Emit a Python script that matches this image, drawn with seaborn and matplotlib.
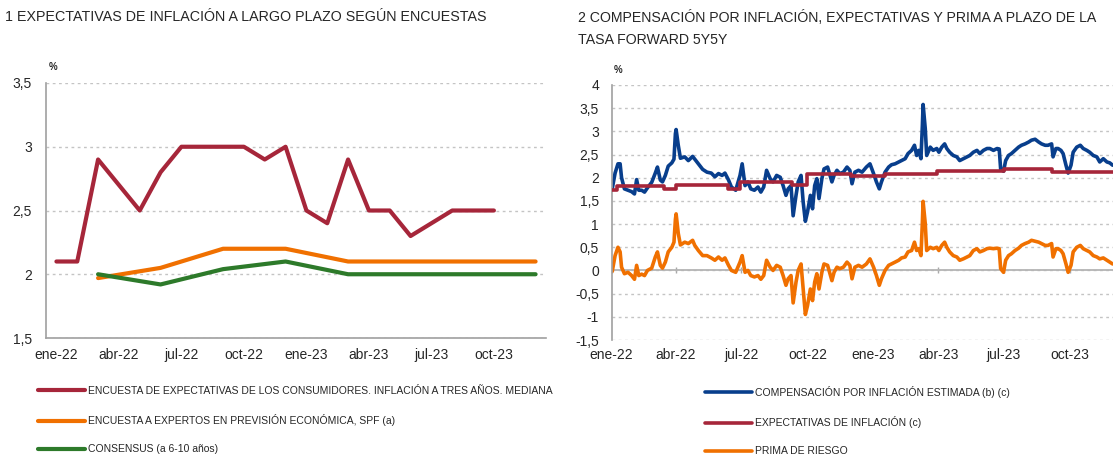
import matplotlib
matplotlib.use("Agg")
import matplotlib.pyplot as plt
from matplotlib import font_manager
import numpy as np
import pandas as pd
import seaborn as sns

nan = np.nan

# ── Panel 1: encuestas (eje de categorías mensual) ─────────────────────────
meses = ["ene-22", "feb-22", "mar-22", "abr-22", "may-22", "jun-22",
         "jul-22", "ago-22", "sep-22", "oct-22", "nov-22", "dic-22",
         "ene-23", "feb-23", "mar-23", "abr-23", "may-23", "jun-23",
         "jul-23", "ago-23", "sep-23", "oct-23", "nov-23", "dic-23"]
consumidores = [2.1, 2.1, 2.9, 2.7, 2.5, 2.8, 3.0, 3.0, 3.0, 3.0, 2.9, 3.0,
                2.5, 2.4, 2.9, 2.5, 2.5, 2.3, 2.4, 2.5, 2.5, 2.5, nan, nan]
spf = [nan, nan, 1.97, nan, nan, 2.05, nan, nan, 2.2, nan, nan, 2.2,
       nan, nan, 2.1, nan, nan, 2.1, nan, nan, 2.1, nan, nan, 2.1]
consensus = [nan, nan, 2.0, nan, nan, 1.92, nan, nan, 2.04, nan, nan, 2.1,
             nan, nan, 2.0, nan, nan, 2.0, nan, nan, 2.0, nan, nan, 2.0]

# ── Panel 2: forward 5y5y (diario) ─────────────────────────────────────────
fechas = [
    "2022-01-02", "2022-01-06", "2022-01-10", "2022-01-13", "2022-01-15", "2022-01-19",
    "2022-01-24", "2022-01-29", "2022-02-02", "2022-02-05", "2022-02-08", "2022-02-12",
    "2022-02-16", "2022-02-20", "2022-02-26", "2022-03-03", "2022-03-06", "2022-03-10",
    "2022-03-13", "2022-03-17", "2022-03-21", "2022-03-26", "2022-03-29", "2022-03-31",
    "2022-04-01", "2022-04-04", "2022-04-07", "2022-04-13", "2022-04-18", "2022-04-24",
    "2022-04-27", "2022-05-02", "2022-05-08", "2022-05-14", "2022-05-20", "2022-05-25",
    "2022-05-30", "2022-06-04", "2022-06-08", "2022-06-13", "2022-06-17", "2022-06-23",
    "2022-06-29", "2022-07-02", "2022-07-06", "2022-07-10", "2022-07-14", "2022-07-19",
    "2022-07-24", "2022-07-28", "2022-08-01", "2022-08-05", "2022-08-10", "2022-08-14",
    "2022-08-19", "2022-08-24", "2022-08-28", "2022-09-01", "2022-09-04", "2022-09-08",
    "2022-09-11", "2022-09-15", "2022-09-18", "2022-09-22", "2022-09-25", "2022-09-28",
    "2022-10-01", "2022-10-05", "2022-10-08", "2022-10-11", "2022-10-14", "2022-10-17",
    "2022-10-21", "2022-10-24", "2022-10-29", "2022-11-04", "2022-11-07", "2022-11-11",
    "2022-11-15", "2022-11-20", "2022-11-25", "2022-11-29", "2022-12-02", "2022-12-06",
    "2022-12-11", "2022-12-16", "2022-12-22", "2022-12-27", "2023-01-01", "2023-01-05",
    "2023-01-09", "2023-01-12", "2023-01-17", "2023-01-22", "2023-01-26", "2023-01-31",
    "2023-02-05", "2023-02-09", "2023-02-14", "2023-02-18", "2023-02-23", "2023-02-27",
    "2023-03-02", "2023-03-05", "2023-03-08", "2023-03-10", "2023-03-11", "2023-03-14",
    "2023-03-16", "2023-03-21", "2023-03-25", "2023-03-30", "2023-04-02", "2023-04-06",
    "2023-04-10", "2023-04-13", "2023-04-17", "2023-04-22", "2023-04-27", "2023-05-01",
    "2023-05-06", "2023-05-11", "2023-05-15", "2023-05-20", "2023-05-25", "2023-05-29",
    "2023-06-03", "2023-06-08", "2023-06-12", "2023-06-17", "2023-06-22", "2023-06-25",
    "2023-06-27", "2023-07-01", "2023-07-04", "2023-07-08", "2023-07-12", "2023-07-17",
    "2023-07-22", "2023-07-26", "2023-07-31", "2023-08-05", "2023-08-09", "2023-08-14",
    "2023-08-19", "2023-08-23", "2023-08-28", "2023-09-01", "2023-09-06", "2023-09-08",
    "2023-09-12", "2023-09-15", "2023-09-19", "2023-09-22", "2023-09-26", "2023-09-29",
    "2023-10-03", "2023-10-06", "2023-10-11", "2023-10-16", "2023-10-20", "2023-10-25",
    "2023-10-29", "2023-11-03", "2023-11-08", "2023-11-12", "2023-11-17", "2023-11-22",
    "2023-11-26", "2023-11-30"]
compensacion = [
    1.76, 2.10, 2.30, 2.30, 2.00, 1.76, 1.73, 1.70, 1.65, 1.96, 1.73, 1.73,
    1.69, 1.78, 1.90, 2.10, 2.23, 1.95, 1.91, 2.05, 2.25, 2.32, 2.40, 2.95,
    3.04, 2.70, 2.42, 2.45, 2.37, 2.46, 2.40, 2.30, 2.18, 2.12, 2.10, 2.02,
    2.09, 2.05, 2.10, 1.95, 1.80, 1.73, 2.05, 2.30, 1.83, 1.91, 1.76, 1.73,
    1.80, 1.69, 1.80, 2.16, 1.98, 1.91, 2.05, 2.01, 1.83, 1.62, 1.76, 1.83,
    1.18, 1.62, 1.91, 2.05, 1.47, 1.06, 1.26, 1.62, 1.33, 1.83, 1.98, 1.55,
    1.98, 2.19, 2.23, 1.91, 2.05, 2.16, 2.09, 2.12, 2.23, 2.16, 1.87, 2.12,
    2.16, 2.12, 2.23, 2.30, 2.09, 1.91, 1.76, 1.91, 2.12, 2.23, 2.28, 2.30,
    2.34, 2.37, 2.41, 2.52, 2.59, 2.70, 2.48, 2.59, 2.41, 3.13, 3.58, 3.06,
    2.48, 2.66, 2.59, 2.63, 2.55, 2.66, 2.73, 2.63, 2.55, 2.48, 2.45, 2.37,
    2.41, 2.45, 2.48, 2.55, 2.59, 2.52, 2.59, 2.63, 2.63, 2.59, 2.63, 2.62,
    2.19, 2.14, 2.37, 2.48, 2.52, 2.59, 2.66, 2.70, 2.73, 2.77, 2.81, 2.83,
    2.77, 2.73, 2.70, 2.70, 2.73, 2.45, 2.63, 2.63, 2.59, 2.52, 2.27, 2.10,
    2.27, 2.55, 2.66, 2.70, 2.63, 2.59, 2.55, 2.48, 2.45, 2.34, 2.41, 2.34,
    2.32, 2.27]
prima = [
    -0.02, 0.32, 0.50, 0.40, 0.07, -0.07, -0.04, -0.11, -0.19, 0.11, -0.11, -0.08,
    -0.11, 0.00, 0.05, 0.29, 0.40, 0.11, 0.05, 0.18, 0.40, 0.50, 0.61, 1.10,
    1.22, 0.80, 0.55, 0.61, 0.58, 0.65, 0.54, 0.43, 0.32, 0.32, 0.27, 0.22,
    0.29, 0.22, 0.27, 0.11, 0.00, -0.04, 0.18, 0.32, -0.04, 0.00, -0.11, -0.14,
    -0.11, -0.19, -0.11, 0.22, 0.07, 0.00, 0.11, 0.07, -0.11, -0.32, -0.18, -0.11,
    -0.70, -0.25, 0.00, 0.14, -0.40, -0.95, -0.76, -0.40, -0.65, -0.25, -0.07, -0.40,
    -0.04, 0.14, 0.11, -0.22, -0.04, 0.07, 0.04, 0.07, 0.18, 0.11, -0.18, 0.07,
    0.11, 0.07, 0.14, 0.25, 0.07, -0.11, -0.32, -0.18, 0.00, 0.11, 0.14, 0.18,
    0.22, 0.27, 0.29, 0.40, 0.43, 0.61, 0.43, 0.47, 0.32, 1.04, 1.49, 1.01,
    0.43, 0.50, 0.47, 0.50, 0.43, 0.54, 0.61, 0.50, 0.40, 0.32, 0.29, 0.22,
    0.25, 0.29, 0.32, 0.43, 0.47, 0.40, 0.43, 0.47, 0.48, 0.47, 0.48, 0.47,
    0.04, -0.04, 0.22, 0.32, 0.36, 0.43, 0.48, 0.54, 0.58, 0.61, 0.65, 0.63,
    0.61, 0.58, 0.54, 0.54, 0.58, 0.29, 0.47, 0.47, 0.43, 0.36, 0.14, -0.04,
    0.11, 0.40, 0.50, 0.54, 0.47, 0.43, 0.40, 0.32, 0.29, 0.25, 0.27, 0.22,
    0.18, 0.14]
fechas_exp = ["2022-01-01", "2022-01-08", "2022-03-15", "2022-04-01", "2022-06-12",
              "2022-06-29", "2022-09-10", "2022-09-30", "2022-12-01", "2023-01-17",
              "2023-03-30", "2023-07-01", "2023-09-07", "2023-11-30"]
expectativas = [1.73, 1.83, 1.76, 1.84, 1.75, 1.91, 1.85, 2.07, 2.03, 2.07,
                2.15, 2.19, 2.13, 2.13]

trimestres = ["2022-01-01", "2022-04-01", "2022-07-01", "2022-10-01",
              "2023-01-01", "2023-04-01", "2023-07-01", "2023-10-01"]
etiquetas = ["ene-22", "abr-22", "jul-22", "oct-22", "ene-23", "abr-23", "jul-23", "oct-23"]

ROJO, NARANJA, VERDE, AZUL = "#A6263A", "#F07000", "#2D7A2A", "#083E8C"
GRIS, REJILLA = "#A0A0A0", "#C4C4C4"

sns.set_style("white")
disponibles = set(font_manager.get_font_names())
if "Liberation Sans Narrow" in disponibles:
    ESTRECHA, TAM_LEY = "Liberation Sans Narrow", 9.0
else:
    ESTRECHA, TAM_LEY = "Liberation Sans", 7.5
plt.rcParams["font.family"] = ["Liberation Sans", "DejaVu Sans"]

W, H = 1113, 457
fig = plt.figure(figsize=(W / 100, H / 100), dpi=100)
ax1 = fig.add_axes([46 / W, 1 - 338 / H, 500 / W, 255 / H])
ax2 = fig.add_axes([611.5 / W, 1 - 340 / H, 523.4 / W, 255 / H])

leyenda = dict(loc="upper left", bbox_transform=fig.transFigure, frameon=False,
               prop={"family": ESTRECHA, "size": TAM_LEY},
               handlelength=4.5, handletextpad=0.3, labelspacing=1.75,
               borderpad=0, borderaxespad=0)


# ── 1. Expectativas según encuestas ────────────────────────────────────────
izq = pd.DataFrame({"mes": meses, "consumidores": consumidores,
                    "spf": spf, "consensus": consensus})
izq["pos"] = np.arange(len(meses))

series_izq = [
    ("consumidores", ROJO, "ENCUESTA DE EXPECTATIVAS DE LOS CONSUMIDORES. INFLACIÓN A TRES AÑOS. MEDIANA"),
    ("spf", NARANJA, "ENCUESTA A EXPERTOS EN PREVISIÓN ECONÓMICA, SPF (a)"),
    ("consensus", VERDE, "CONSENSUS (a 6-10 años)"),
]
for col, color, etiqueta in series_izq:
    d = izq.dropna(subset=[col])
    sns.lineplot(data=d, x="pos", y=col, ax=ax1, color=color, lw=3.0,
                 label=etiqueta, solid_capstyle="round", solid_joinstyle="round")

ax1.set_xlim(-0.5, len(meses) - 0.5)
ax1.set_ylim(1.5, 3.5)
ax1.set_yticks([1.5, 2, 2.5, 3, 3.5])
ax1.set_yticklabels(["1,5", "2", "2,5", "3", "3,5"])
ax1.set_xticks(izq["pos"][::3])
ax1.set_xticklabels(meses[::3])
ax1.set_xticks(izq["pos"][2::3] + 0.5, minor=True)
ax1.tick_params(axis="x", which="major", length=0, pad=7, labelsize=10)
ax1.tick_params(axis="x", which="minor", length=4, width=1, direction="in", color=GRIS)
ax1.tick_params(axis="y", length=0, pad=10, labelsize=10)
ax1.set_xlabel("")
ax1.set_ylabel("")
ax1.yaxis.grid(True, ls=(0, (2, 2.5)), color=REJILLA, lw=1)
ax1.set_axisbelow(True)
for lado in ["top", "right"]:
    ax1.spines[lado].set_visible(False)
for lado in ["left", "bottom"]:
    ax1.spines[lado].set_color(GRIS)
    ax1.spines[lado].set_linewidth(1.2)

ax1.legend(bbox_to_anchor=(38 / W, 1 - 386 / H), **leyenda)


# ── 2. Compensación por inflación, expectativas y prima ────────────────────
der = pd.DataFrame({"fecha": pd.to_datetime(fechas),
                    "compensacion": compensacion, "prima": prima})
exp = pd.DataFrame({"fecha": pd.to_datetime(fechas_exp), "expectativas": expectativas})

ax2.axhline(0, color="#B4B4B4", lw=1.3, zorder=1)
sns.lineplot(data=der, x="fecha", y="compensacion", ax=ax2, color=AZUL, lw=2.6,
             label="COMPENSACIÓN POR INFLACIÓN ESTIMADA (b) (c)", zorder=2)
sns.lineplot(data=exp, x="fecha", y="expectativas", ax=ax2, color=ROJO, lw=2.6,
             drawstyle="steps-post", label="EXPECTATIVAS DE INFLACIÓN (c)", zorder=3)
sns.lineplot(data=der, x="fecha", y="prima", ax=ax2, color=NARANJA, lw=2.6,
             label="PRIMA DE RIESGO", zorder=2)

ax2.set_xlim(pd.Timestamp("2022-01-01"), pd.Timestamp("2023-12-31"))
ax2.set_ylim(-1.5, 4)
niveles = np.arange(-1.5, 4.01, 0.5)
ax2.set_yticks(niveles)
ax2.set_yticklabels([f"{v:g}".replace(".", ",") for v in niveles])
ax2.set_xticks(pd.to_datetime(trimestres))
ax2.set_xticklabels(etiquetas)
ax2.tick_params(axis="x", length=0, pad=6, labelsize=10)
ax2.tick_params(axis="y", length=0, pad=9, labelsize=10)
ax2.set_xlabel("")
ax2.set_ylabel("")
ax2.yaxis.grid(True, ls=(0, (2, 2.5)), color=REJILLA, lw=1)
ax2.set_axisbelow(True)
for lado in ["top", "right", "bottom"]:
    ax2.spines[lado].set_visible(False)
ax2.spines["left"].set_color(GRIS)
ax2.spines["left"].set_linewidth(1.2)

# marcas de trimestre sobre la línea de cero
ylo, yhi = ax2.get_ylim()
cero = ax2.secondary_xaxis((0 - ylo) / (yhi - ylo))
cero.set_xticks(pd.to_datetime(trimestres))
cero.tick_params(axis="x", which="both", direction="inout", length=5, width=1,
                 color="#A8A8A8", labelbottom=False, labeltop=False)
for lado in cero.spines.values():
    lado.set_visible(False)

ax2.legend(bbox_to_anchor=(705 / W, 1 - 386 / H), **leyenda)


# ── textos ─────────────────────────────────────────────────────────────────
fig.text(5 / W, 1 - 17 / H, "1 EXPECTATIVAS DE INFLACIÓN A LARGO PLAZO SEGÚN ENCUESTAS",
         fontsize=10.3, va="center", ha="left")
fig.text(578 / W, 1 - 18 / H, "2 COMPENSACIÓN POR INFLACIÓN, EXPECTATIVAS Y PRIMA A PLAZO DE LA",
         fontsize=10.2, va="center", ha="left")
fig.text(578 / W, 1 - 40 / H, "TASA FORWARD 5Y5Y", fontsize=10.2, va="center", ha="left")
fig.text(49 / W, 1 - 67 / H, "%", fontsize=7, fontweight="bold", va="center", ha="left")
fig.text(614 / W, 1 - 70 / H, "%", fontsize=7, fontweight="bold", va="center", ha="left")

fig.savefig("out.png", dpi=100)
plt.close(fig)
